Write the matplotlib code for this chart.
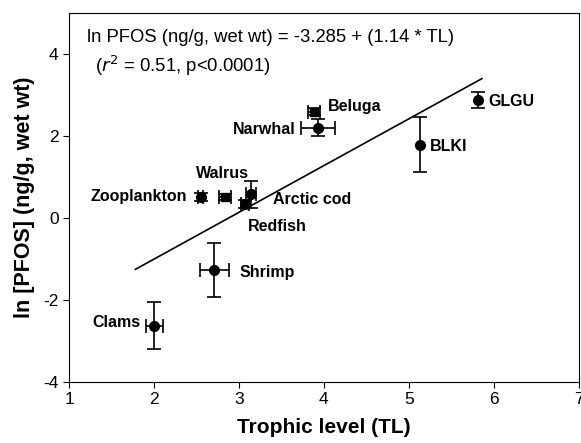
import numpy as np
import matplotlib.pyplot as plt

plt.rcParams['font.family'] = ['Liberation Sans', 'DejaVu Sans']
plt.rcParams['axes.unicode_minus'] = False

# species data
names = ['Clams', 'Shrimp', 'Zooplankton', 'Walrus', 'Redfish', 'Arctic cod',
         'Beluga', 'Narwhal', 'BLKI', 'GLGU']
tl = [2.0, 2.71, 2.55, 2.84, 3.07, 3.14, 3.88, 3.93, 5.13, 5.81]
tl_err = [0.1, 0.17, 0.03, 0.07, 0.05, 0.06, 0.07, 0.2, 0.0, 0.0]
pfos = [-2.63, -1.27, 0.51, 0.50, 0.34, 0.58, 2.59, 2.2, 1.78, 2.88]
pfos_err = [0.58, 0.65, 0.1, 0.07, 0.1, 0.33, 0.08, 0.2, 0.67, 0.2]
markers = ['o', 'o', 'o', 's', 'o', 'o', 's', 'o', 'o', 'o']

# label offsets (points) and alignment
label_pos = {
    'Clams': (-10, 2, 'right'),
    'Shrimp': (18, -2, 'left'),
    'Zooplankton': (-10, 0, 'right'),
    'Walrus': (-2, 17, 'center'),
    'Redfish': (2, -16, 'left'),
    'Arctic cod': (16, -4, 'left'),
    'Beluga': (10, 4, 'left'),
    'Narwhal': (-16, -1, 'right'),
    'BLKI': (7, -1, 'left'),
    'GLGU': (8, -1, 'left'),
}

intercept = -3.285
slope = 1.14
fit_x = np.array([1.78, 5.86])

fig = plt.figure(figsize=(5.81, 4.43), dpi=100)
ax = fig.add_axes([0.119, 0.138, 0.877, 0.833])

ax.plot(fit_x, intercept + slope * fit_x, color='black', lw=1.2)

for n, x, xe, y, ye, m in zip(names, tl, tl_err, pfos, pfos_err, markers):
    ax.errorbar(x, y, xerr=xe if xe > 0 else None, yerr=ye, fmt=m,
                color='black', ms=7 if m == 'o' else 6, capsize=5,
                elinewidth=1.2, capthick=1.2)
    dx, dy, ha = label_pos[n]
    ax.annotate(n, (x, y), xytext=(dx, dy), textcoords='offset points',
                ha=ha, va='center', fontsize=11.5, fontweight='bold')

ax.text(0.036, 0.955, 'ln PFOS (ng/g, wet wt) = -3.285 + (1.14 * TL)',
        transform=ax.transAxes, fontsize=13.3, va='top')
ax.text(0.05, 0.89, '($r^2$ = 0.51, p<0.0001)', transform=ax.transAxes,
        fontsize=13.3, va='top')

ax.set_xlim(1, 7)
ax.set_ylim(-4, 5)
ax.set_xticks([1, 2, 3, 4, 5, 6, 7])
ax.set_yticks([-4, -2, 0, 2, 4])
ax.tick_params(labelsize=12.5, direction='out', length=4, top=False, right=False)
ax.set_xlabel('Trophic level (TL)', fontsize=15, fontweight='bold', labelpad=8)
ax.set_ylabel('ln [PFOS] (ng/g, wet wt)', fontsize=15.5, fontweight='bold', labelpad=6)

fig.savefig('out.png', dpi=100)
